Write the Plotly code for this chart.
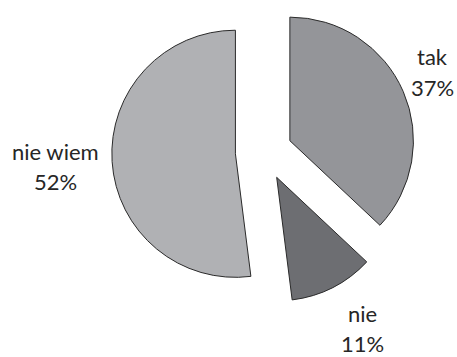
import plotly.graph_objects as go

# Survey answers and their shares (%)
labels = ["tak", "nie", "nie wiem"]
values = [37, 11, 52]
percent_text = ["37%", "11%", "52%"]

colors = ["#949599", "#6d6e72", "#b0b1b4"]

# Label anchor points (pixel x, y of the first caption line)
label_px = [(432, 57), (362, 313), (55, 151)]
line_gap = 30

W, H = 457, 357

fig = go.Figure(
    go.Pie(
        labels=labels,
        values=values,
        sort=False,
        direction="clockwise",
        rotation=0,
        pull=[0.23, 0.23, 0.23],
        marker=dict(colors=colors, line=dict(color="#2a2a2a", width=1)),
        textinfo="none",
        hoverinfo="label+percent",
        domain=dict(x=[0.2446, 0.9098], y=[0.1485, 1.0]),
        showlegend=False,
    )
)

annotations = []
for name, pct, (px, py) in zip(labels, percent_text, label_px):
    for k, txt in enumerate([name, pct]):
        annotations.append(
            dict(
                x=px / W,
                y=1 - (py + line_gap * k) / H,
                xref="paper",
                yref="paper",
                text=txt,
                showarrow=False,
                xanchor="center",
                yanchor="middle",
                font=dict(family="Lato", size=22, color="#262626"),
            )
        )

fig.update_layout(
    width=W,
    height=H,
    margin=dict(l=0, r=0, t=0, b=0),
    paper_bgcolor="white",
    plot_bgcolor="white",
    annotations=annotations,
)

fig.write_html("out.html")
